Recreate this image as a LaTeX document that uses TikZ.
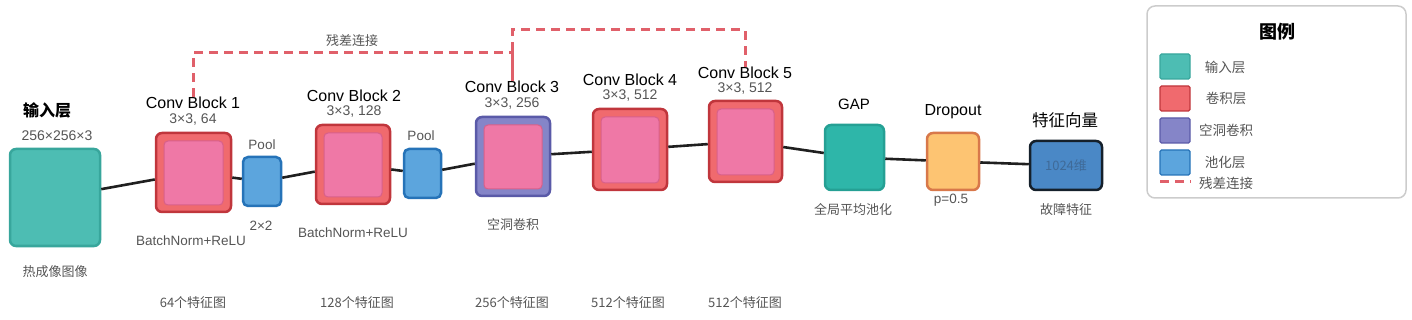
\documentclass[tikz,border=0pt]{standalone}
\usepackage{fontspec}
\setmainfont{Liberation Sans}
\newfontfamily\cjk{Noto Sans CJK SC}
\definecolor{inpF}{HTML}{4DBDB3}\definecolor{inpD}{HTML}{38A69C}
\definecolor{gapF}{HTML}{2EB6A9}\definecolor{gapD}{HTML}{25A094}
\definecolor{convF}{HTML}{F06A6E}\definecolor{convD}{HTML}{C0363C}
\definecolor{pinkF}{HTML}{EF78A6}\definecolor{pinkD}{HTML}{D8608A}
\definecolor{dilF}{HTML}{8585C8}\definecolor{dilD}{HTML}{5A5AA8}
\definecolor{poolF}{HTML}{5CA5DD}\definecolor{poolD}{HTML}{2673B8}
\definecolor{dropF}{HTML}{FDC472}\definecolor{dropD}{HTML}{D8784A}
\definecolor{vecF}{HTML}{4A88C6}\definecolor{vecD}{HTML}{15202B}
\definecolor{vecT}{HTML}{3F6A98}
\definecolor{resC}{HTML}{E0606A}
\definecolor{txtG}{HTML}{555555}
\definecolor{legD}{HTML}{CCCCCC}
\begin{document}
\begin{tikzpicture}[x=1pt,y=-1pt,
  box/.style={rounded corners=6pt,line width=2.5pt,inner sep=0pt},
  inner/.style={rounded corners=4pt,line width=1pt,draw=pinkD,fill=pinkF,inner sep=0pt},
  title/.style={inner sep=0pt,font=\fontsize{16}{16}\selectfont},
  sub/.style={inner sep=0pt,text=txtG,font=\fontsize{13.5}{14}\selectfont},
  csub/.style={inner sep=0pt,text=txtG,font=\cjk\fontsize{13}{14}\selectfont},
  link/.style={line width=2.6pt,draw=black!88},
  res/.style={line width=3pt,draw=resC,dash pattern=on 9pt off 6pt},
  swatch/.style={rounded corners=1.5pt,line width=1.2pt,minimum width=30pt,minimum height=25pt,inner sep=0pt},
  leg/.style={inner sep=0pt,text=txtG,font=\cjk\fontsize{13.5}{14}\selectfont}]
\useasboundingbox (0,0) rectangle (1412,320);

% boxes
\node[box,draw=inpD,fill=inpF,minimum width=90pt,minimum height=97pt] (in) at (55,197.5) {};
\node[box,draw=convD,fill=convF,minimum width=75pt,minimum height=79pt] (c1) at (193.5,172.5) {};
\node[inner,minimum width=59pt,minimum height=64pt] (c1i) at (193.5,173) {};
\node[box,draw=poolD,fill=poolF,minimum width=38pt,minimum height=49pt,rounded corners=5pt] (p1) at (262,181.5) {};
\node[box,draw=convD,fill=convF,minimum width=74pt,minimum height=79pt] (c2) at (353,164.5) {};
\node[inner,minimum width=58pt,minimum height=64pt] (c2i) at (353,165) {};
\node[box,draw=poolD,fill=poolF,minimum width=37pt,minimum height=49pt,rounded corners=5pt] (p2) at (422.5,173.5) {};
\node[box,draw=dilD,fill=dilF,minimum width=74pt,minimum height=79pt] (c3) at (513,156.5) {};
\node[inner,minimum width=58pt,minimum height=64pt] (c3i) at (513,157) {};
\node[box,draw=convD,fill=convF,minimum width=74pt,minimum height=81pt] (c4) at (630,149.5) {};
\node[inner,minimum width=58pt,minimum height=66pt] (c4i) at (630,150) {};
\node[box,draw=convD,fill=convF,minimum width=73pt,minimum height=81pt] (c5) at (745.5,141.5) {};
\node[inner,minimum width=57pt,minimum height=66pt] (c5i) at (745.5,142) {};
\node[box,draw=gapD,fill=gapF,minimum width=59pt,minimum height=65pt] (gap) at (854.5,157.5) {};
\node[box,draw=dropD,fill=dropF,minimum width=52pt,minimum height=57pt] (drop) at (953,161.5) {};
\node[box,draw=vecD,fill=vecF,minimum width=72pt,minimum height=49pt,text=vecT,font=\cjk\fontsize{13}{14}\selectfont] (vec) at (1066,165.5) {1024维};

% connectors
\draw[link] (in) -- (c1);
\draw[link] (c1) -- (p1);
\draw[link] (p1) -- (c2);
\draw[link] (c2) -- (p2);
\draw[link] (p2) -- (c3);
\draw[link] (c3) -- (c4);
\draw[link] (c4) -- (c5);
\draw[link] (c5) -- (gap);
\draw[link] (gap) -- (drop);
\draw[link] (drop) -- (vec);

% titles
\node[inner sep=0pt,font=\cjk\bfseries\fontsize{16}{16}\selectfont] (tin) at (47,110) {输入层};
\node[sub,font=\fontsize{14}{14}\selectfont] (sin) at (57,136) {256×256×3};
\node[csub] (bin) at (55,272) {热成像图像};

\node[title] (t1) at (193,103) {Conv Block 1};
\node[sub,font=\fontsize{14}{14}\selectfont] (s1) at (193,120) {3×3, 64};
\node[sub] (b1) at (191,241) {BatchNorm+ReLU};
\node[sub] (tp1) at (262,145) {Pool};
\node[sub] (bp1) at (261,226) {2×2};

\node[title] (t2) at (354,96) {Conv Block 2};
\node[sub,font=\fontsize{14}{14}\selectfont] (s2) at (354,112) {3×3, 128};
\node[sub] (b2) at (353,233) {BatchNorm+ReLU};
\node[sub] (tp2) at (421,136) {Pool};

\node[title] (t3) at (512,87) {Conv Block 3};
\node[sub,font=\fontsize{14}{14}\selectfont] (s3) at (512,104) {3×3, 256};
\node[csub] (b3) at (513,225) {空洞卷积};

\node[title] (t4) at (630,80) {Conv Block 4};
\node[sub,font=\fontsize{14}{14}\selectfont] (s4) at (630,96) {3×3, 512};

\node[title] (t5) at (745,73) {Conv Block 5};
\node[sub,font=\fontsize{14}{14}\selectfont] (s5) at (745,89) {3×3, 512};

\node[title,font=\fontsize{15}{15}\selectfont] (tg) at (854,104) {GAP};
\node[csub] (bg) at (853,210) {全局平均池化};
\node[title] (td) at (953,112) {Dropout};
\node[sub] (bd) at (951,200) {p=0.5};
\node[inner sep=0pt,font=\cjk\fontsize{16.5}{17}\selectfont] (tv) at (1065,120) {特征向量};
\node[csub] (bv) at (1066,210) {故障特征};

% bottom labels
\node[csub] (f1) at (193,303) {64个特征图};
\node[csub] (f2) at (357,303) {128个特征图};
\node[csub] (f3) at (512,303) {256个特征图};
\node[csub] (f4) at (628,303) {512个特征图};
\node[csub] (f5) at (745,303) {512个特征图};

% residual connections
\coordinate (r1) at (512,53);
\coordinate (r2) at (512,30);
\coordinate (r3) at (745,30);
\draw[res] (t1.north) |- (r1) -- (t3.north);
\draw[res] (t3.north) -- (r2) -- (r3) -- (t5.north);
\node[csub] (rl) at (352,41) {残差连接};

% legend
\node[draw=legD,line width=1.5pt,rounded corners=8pt,minimum width=259pt,minimum height=192pt,inner sep=0pt] (legbox) at (1276.5,102) {};
\node[inner sep=0pt,font=\cjk\bfseries\fontsize{18}{18}\selectfont] (legt) at (1277,32) {图例};
\node[swatch,draw=inpD,fill=inpF] (l1) at (1175,66.5) {};
\node[swatch,draw=convD,fill=convF] (l2) at (1175,98.5) {};
\node[swatch,draw=dilD,fill=dilF] (l3) at (1175,130.5) {};
\node[swatch,draw=poolD,fill=poolF] (l4) at (1175,162.5) {};
\node[leg] (lt1) at (1225,67) {输入层};
\node[leg] (lt2) at (1226,98) {卷积层};
\node[leg] (lt3) at (1226,130) {空洞卷积};
\node[leg] (lt4) at (1225,162) {池化层};
\node[leg] (lt5) at (1226,183) {残差连接};
\coordinate (ld1) at (1160,182);
\coordinate (ld2) at (1191,182);
\draw[res] (ld1) -- (ld2);
\end{tikzpicture}
\end{document}
